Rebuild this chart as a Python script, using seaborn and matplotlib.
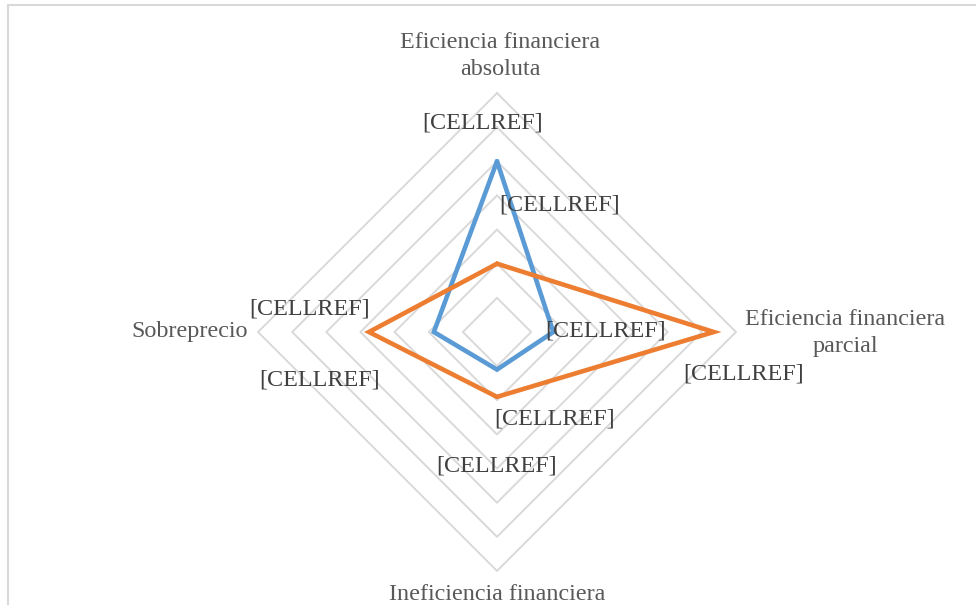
import numpy as np
import pandas as pd
import matplotlib
matplotlib.use("Agg")
import matplotlib.pyplot as plt
import seaborn as sns
from matplotlib.patches import Rectangle

# ---- data ----
categories = ["Eficiencia financiera\nabsoluta", "Eficiencia financiera\nparcial",
              "Ineficiencia financiera", "Sobreprecio"]
series_names = ["Serie 1", "Serie 2"]
serie1 = [5.0, 1.65, 1.1, 1.85]
serie2 = [2.0, 6.35, 1.9, 3.75]
ring_max = 7
label_text = "[CELLREF]"

sns.set_theme(style="white")
plt.rcParams["font.family"] = ["Liberation Serif", "DejaVu Serif"]

W, H = 976, 605
cx, cy, unit = 497, 332, 34.14  # pixel centre / pixel per unit
FS = 17.4

fig = plt.figure(figsize=(W / 100, H / 100), dpi=100)
ax = fig.add_axes([0, 0, 1, 1])
ax.set_xlim(-cx / unit, (W - cx) / unit)
ax.set_ylim(-(H - cy) / unit, cy / unit)
ax.axis("off")

# angles: top, right, bottom, left (clockwise)
angles = np.deg2rad([90, 0, -90, 180])

def to_xy(vals):
    v = np.asarray(vals, dtype=float)
    x = v * np.cos(angles)
    y = v * np.sin(angles)
    return np.append(x, x[0]), np.append(y, y[0])

# grid rings
for r in range(1, ring_max + 1):
    gx, gy = to_xy([r] * 4)
    ax.plot(gx, gy, color="#D9D9D9", lw=1.4, zorder=1)

colors = ["#5B9BD5", "#ED7D31"]
rows = []
for name, vals in zip(series_names, [serie1, serie2]):
    x, y = to_xy(vals)
    for i, (xx, yy) in enumerate(zip(x, y)):
        rows.append({"serie": name, "order": i, "x": xx, "y": yy})
df = pd.DataFrame(rows)
sns.lineplot(data=df, x="x", y="y", hue="serie", units="serie", estimator=None,
             sort=False, palette=colors, linewidth=3.3, legend=False, ax=ax, zorder=3)
for line in ax.lines[-2:]:
    line.set_solid_joinstyle("miter")

# data labels (pixel offsets from each point)
offsets = {
    "Serie 1": [(-14, 38), (52, 1), (0, -96), (-124, 23)],
    "Serie 2": [(63, 59), (30, -42), (58, -22), (-49, -48)],
}
for name, vals in zip(series_names, [serie1, serie2]):
    x, y = to_xy(vals)
    for i in range(4):
        ax.annotate(label_text, xy=(x[i], y[i]), xytext=offsets[name][i],
                    textcoords="offset pixels", ha="center", va="center",
                    fontsize=FS, color="#404040", zorder=5)

# category labels
ox, oy = to_xy([ring_max] * 4)
ax.annotate(categories[0], xy=(ox[0], oy[0]), xytext=(3, 37), textcoords="offset pixels",
            ha="center", va="center", fontsize=FS, color="#595959", linespacing=1.4)
ax.annotate(categories[1], xy=(ox[1], oy[1]), xytext=(109, -1), textcoords="offset pixels",
            ha="center", va="center", fontsize=FS, color="#595959", linespacing=1.4,
            multialignment="center")
ax.annotate(categories[2], xy=(ox[2], oy[2]), xytext=(0, -24), textcoords="offset pixels",
            ha="center", va="center", fontsize=FS, color="#595959")
ax.annotate(categories[3], xy=(ox[3], oy[3]), xytext=(-10, 0), textcoords="offset pixels",
            ha="right", va="center", fontsize=FS, color="#595959")

# chart border
fig.patches.append(Rectangle((7.5 / W, -0.1), 1.2, 1.1 - 5.5 / H,
                             transform=fig.transFigure, fill=False,
                             edgecolor="#D9D9D9", lw=1.5))

fig.savefig("out.png", dpi=100)
